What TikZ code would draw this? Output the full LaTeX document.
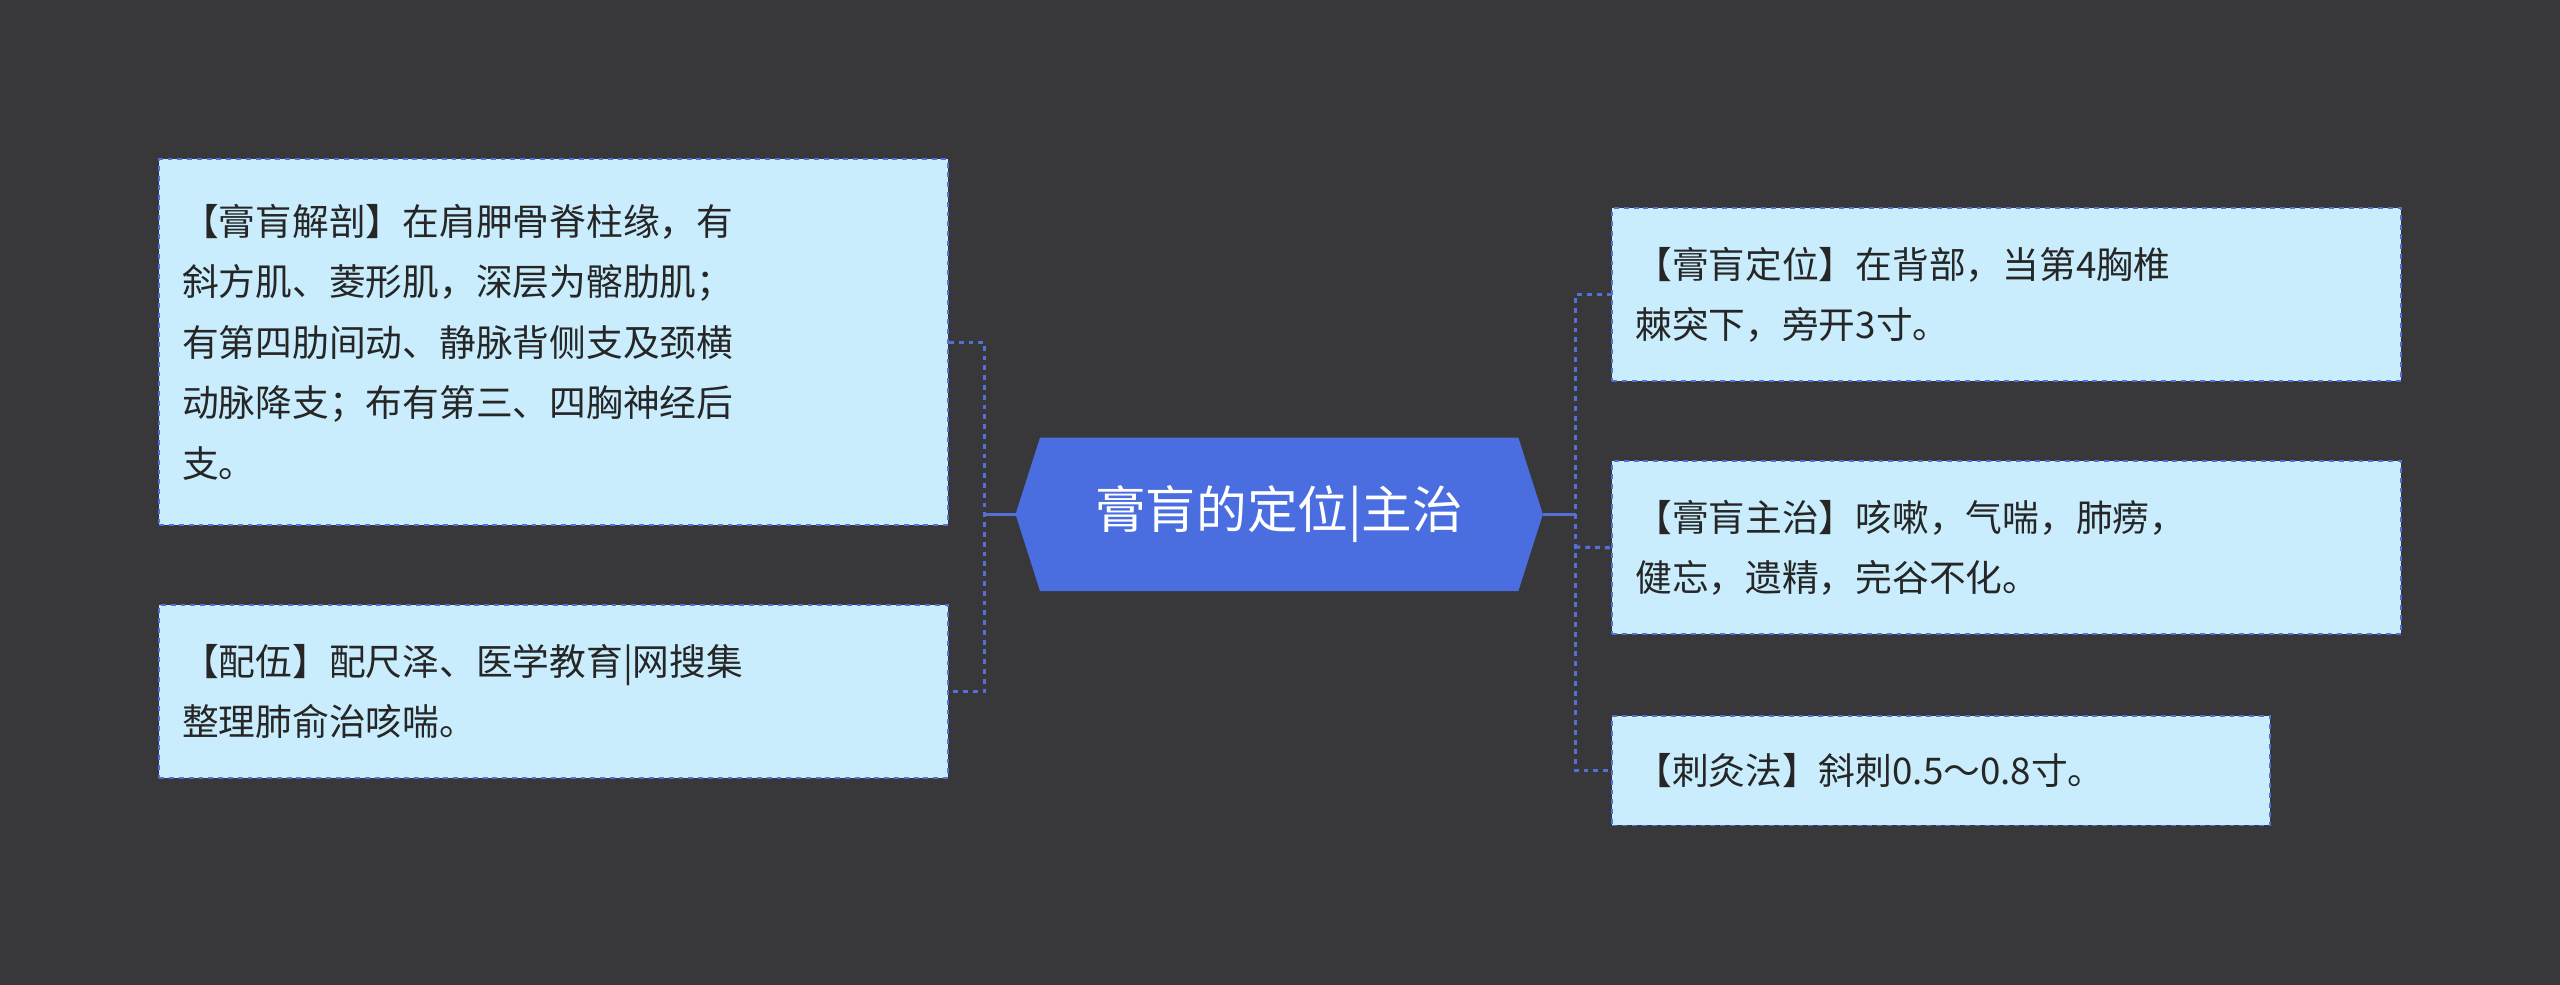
\documentclass[tikz,border=0pt]{standalone}
\usepackage{fontspec}
\setmainfont{Noto Sans CJK SC}
\usetikzlibrary{shapes.misc}
\definecolor{bg}{HTML}{38373A}
\definecolor{boxfill}{HTML}{C9EDFC}
\definecolor{edge}{HTML}{5470D6}
\definecolor{hub}{HTML}{4A6EE0}
\tikzset{
 leaf/.style={draw=edge,dashed,line width=1.2pt,fill=boxfill,anchor=north west,align=left,
   inner xsep=14pt,inner ysep=8pt,font=\fontsize{22.5}{37}\selectfont,text=black!85},
 conn/.style={draw=edge,dashed,line width=2pt},
}
\begin{document}
\begin{tikzpicture}[x=1pt,y=-1pt]
\fill[bg] (0,0) rectangle (1568,603);
\useasboundingbox (0,0) rectangle (1568,603);
\fill[hub] (622,315)--(637,268)--(930,268)--(945,315)--(930,362)--(637,362)--cycle;
\node[text=white,font=\fontsize{31}{36}\selectfont] (hub) at (783.5,315) {膏肓的定位|主治};
\coordinate (hl) at (622,315); \coordinate (hr) at (945,315);
\node[leaf,minimum width=483pt,minimum height=224pt,text width=455pt] (l1) at (97,97) {【膏肓解剖】在肩胛骨脊柱缘，有\\斜方肌、菱形肌，深层为髂肋肌；\\有第四肋间动、静脉背侧支及颈横\\动脉降支；布有第三、四胸神经后\\支。};
\node[leaf,minimum width=483pt,minimum height=106pt,text width=455pt] (l2) at (97,370) {【配伍】配尺泽、医学教育|网搜集\\整理肺俞治咳喘。};
\node[leaf,minimum width=483pt,minimum height=106pt,text width=455pt] (r1) at (987,127) {【膏肓定位】在背部，当第4胸椎\\棘突下，旁开3寸。};
\node[leaf,minimum width=483pt,minimum height=106pt,text width=455pt] (r2) at (987,282) {【膏肓主治】咳嗽，气喘，肺痨，\\健忘，遗精，完谷不化。};
\node[leaf,minimum width=403pt,minimum height=67pt,text width=375pt] (r3) at (987,438) {【刺灸法】斜刺0.5～0.8寸。};
\draw[draw=edge,line width=2pt] (hl) -- (603,315);
\draw[draw=edge,line width=2pt] (hr) -- (965,315);
\draw[conn] (l1.east) -| (603,315) |- (l2.east);
\draw[conn] (r1.west) -| (965,315);
\draw[conn] (965,315) |- (r3.west);
\draw[conn] (965,335) -- (r2.west);
\end{tikzpicture}
\end{document}
